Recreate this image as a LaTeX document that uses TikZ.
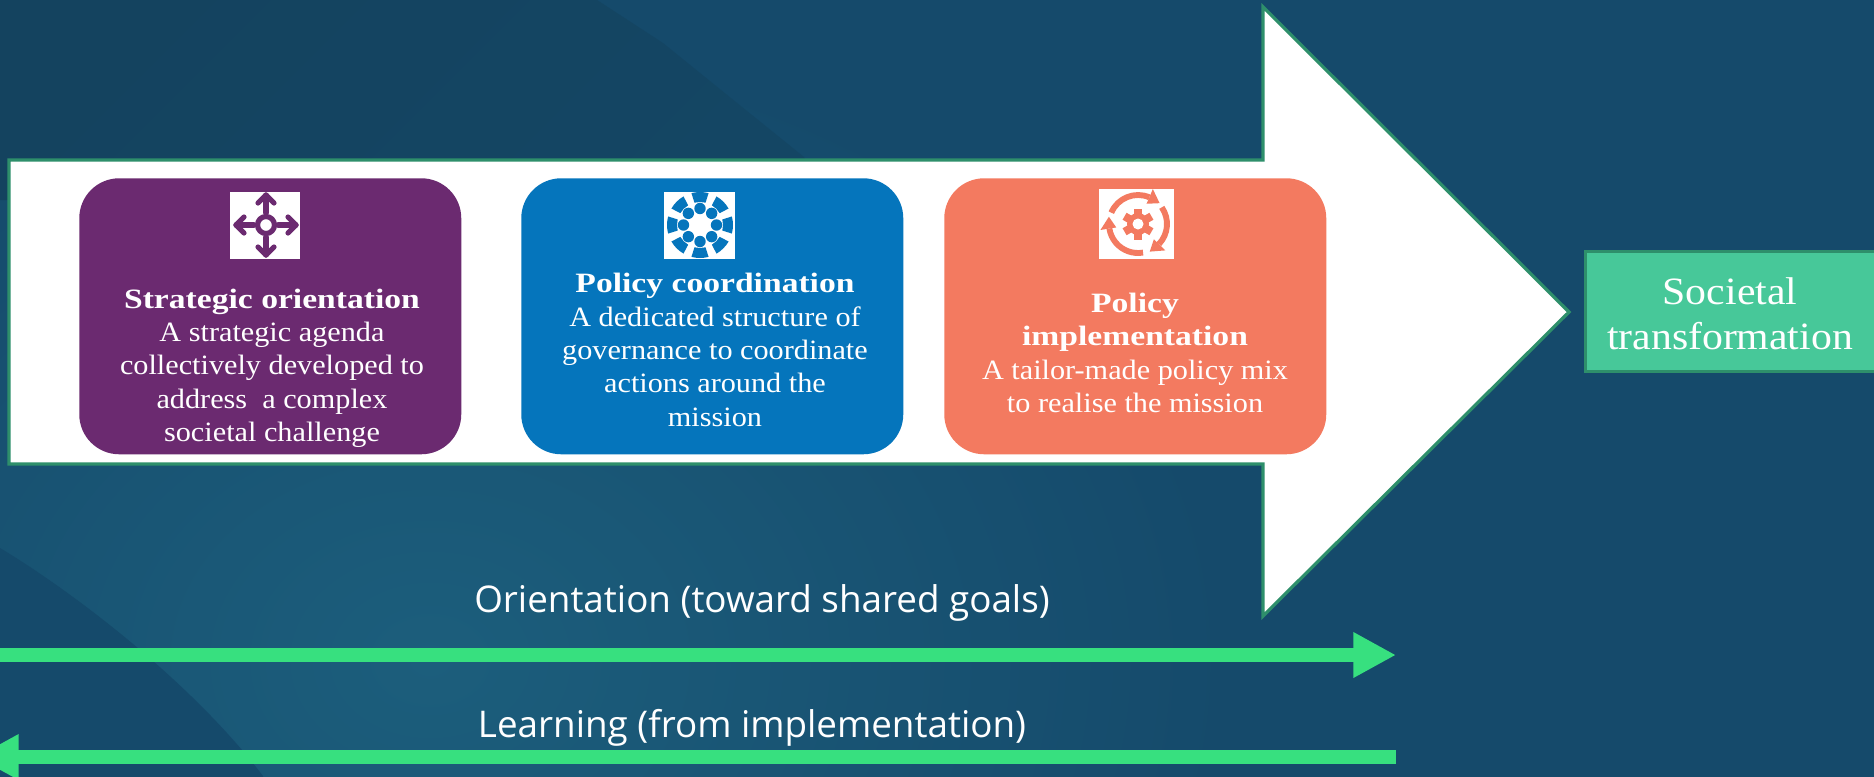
\documentclass[tikz,border=0pt]{standalone}
\usepackage{fontspec}
\usetikzlibrary{arrows.meta}
\setmainfont{Liberation Serif}
\newfontfamily\geo[FakeStretch=1.08]{Liberation Serif}
\newfontfamily\geob[FakeStretch=1.2]{Liberation Serif}
\newfontfamily\sans{Open Sans}
\definecolor{bgbase}{HTML}{154A6B}
\definecolor{bglight}{HTML}{1C5E7C}
\definecolor{bgdark}{HTML}{14435F}
\definecolor{edgegreen}{HTML}{2E8F6B}
\definecolor{arrowgreen}{HTML}{37E07F}
\definecolor{boxgreen}{HTML}{47C899}
\definecolor{cpurple}{HTML}{6B2A70}
\definecolor{cblue}{HTML}{0575BC}
\definecolor{corange}{HTML}{F37A60}
\newcommand{\cardhead}[1]{{\geob\bfseries #1}}
\newcommand{\cyclearc}[2]{%
  \draw[corange,line width=4.4pt] (#1:29) arc[start angle=#1,end angle=#2,radius=29];
  \fill[corange] (#2:22) -- (#2:38) -- ({#2+23}:30) -- cycle;}
\tikzset{
  card/.style={rounded corners=30pt,minimum width=286.5pt,minimum height=207pt,inner sep=0pt,anchor=north west},
  cardtext/.style={text=white,align=center,inner sep=0pt,font=\geo\fontsize{21}{25}\selectfont},
  flow/.style={draw=arrowgreen,line width=10.5pt,-{Triangle[length=32pt,width=32pt]}},
  flowlabel/.style={text=white,font=\sans\fontsize{27.6}{32}\selectfont,inner sep=0pt},
  iconbg/.style={fill=white,draw=none}
}
\begin{document}
\begin{tikzpicture}[x=0.75pt,y=-0.75pt]
\useasboundingbox (0,0) rectangle (1874,776);
% background
\fill[bgbase] (-6,-6) rectangle (1880,782);
\begin{scope}
  \clip (-6,-6) rectangle (1880,782);
  \shade[inner color=bglight,outer color=bgbase] (430,660) ellipse (800 and 620);
  \shade[left color=bgdark,right color=bgdark!60!bgbase,shading angle=45]
    (-6,-6) -- (590,-6) -- (597,0) -- (663,43) -- (721,90) -- (804,157) -- (820,200) -- (-6,200) -- cycle;
  \fill[bgbase] (0,548) .. controls (70,590) and (190,680) .. (263,776) -- (263,782) -- (-6,782) -- (-6,548) -- cycle;
\end{scope}
% big arrow
\draw[fill=white,draw=edgegreen,line width=2.4pt,line join=miter]
  (9,160) -- (1263,160) -- (1263,7) -- (1569,312) -- (1263,616) -- (1263,464) -- (9,464) -- cycle;
% cards
\node[card,fill=cpurple] (purple) at (79,178) {};
\node[card,fill=cblue] (blue) at (521,178) {};
\node[card,fill=corange] (orange) at (944,178) {};
\node[cardtext] (ptext) at (272,368) {\cardhead{Strategic orientation}\\A strategic agenda\\collectively developed to\\address~~a complex\\societal challenge};
\node[cardtext] (btext) at (715,350) {\cardhead{Policy coordination}\\A dedicated structure of\\governance to coordinate\\actions around the\\mission};
\node[cardtext] (otext) at (1135,353) {\cardhead{Policy}\\\cardhead{implementation}\\A tailor-made policy mix\\to realise the mission};
% purple icon
\fill[iconbg] (230,192) rectangle (300,259);
\begin{scope}[draw=cpurple,line width=3.9pt,line cap=round,line join=round]
  \draw (266,225) circle (8.5);
  \foreach \a in {0,90,180,270}{
    \begin{scope}[shift={(266,225)},rotate=\a]
      \draw (12,0) -- (30,0);
      \draw (22,-8) -- (30,0) -- (22,8);
    \end{scope}
  }
\end{scope}
% blue icon
\fill[iconbg] (664,192) rectangle (735,259);
\begin{scope}[shift={(700,225)}]
  \foreach \a in {0,45,...,315}{
    \fill[cblue] (\a:16.5) circle (5.7);
    \fill[cblue,rotate=\a] (-15:33) arc[start angle=-15,end angle=15,radius=33] -- (14:23) arc[start angle=14,end angle=-14,radius=23] -- cycle;
  }
\end{scope}
% orange icon
\fill[iconbg] (1099,189) rectangle (1174,259);
\begin{scope}[shift={(1138,224)}]
  \foreach \a in {30,90,...,330}{
    \fill[corange,rotate=\a] (8,-4) rectangle (15.5,4);
  }
  \fill[corange] (0,0) circle (11);
  \fill[white] (0,0) circle (5.5);
  \cyclearc{-157}{-67}
  \cyclearc{-35}{44}
  \cyclearc{80}{171}
\end{scope}
% societal box
\node[fill=boxgreen,draw=edgegreen,line width=2.4pt,anchor=north west,minimum width=300pt,minimum height=90pt,inner sep=0pt] (goal) at (1584,250) {};
\node[text=white,align=center,inner sep=0pt,font=\geo\fontsize{29}{33.5}\selectfont] (goaltext) at (1730,314) {Societal\\transformation};
% flows
\coordinate (a1) at (-10,655);
\coordinate (a2) at (1396,655);
\coordinate (b1) at (1396,757);
\coordinate (b2) at (-24,757);
\draw[flow] (a1) -- (a2);
\draw[flow] (b1) -- (b2);
\node[flowlabel] (l1) at (762,603) {Orientation (toward shared goals)};
\node[flowlabel] (l2) at (752,728) {Learning (from implementation)};
\end{tikzpicture}
\end{document}
